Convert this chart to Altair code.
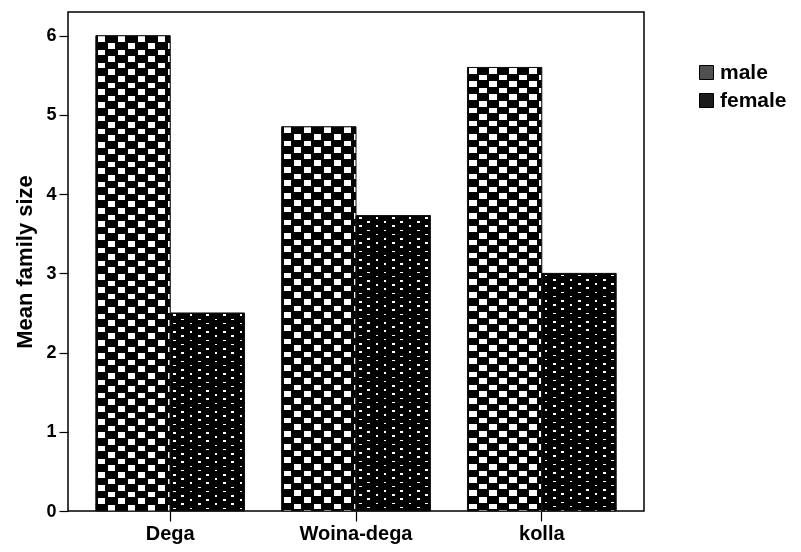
import altair as alt
import pandas as pd

# ---- data ----
categories = ["Dega", "Woina-dega", "kolla"]
sexes = ["male", "female"]
male_means = [6.0, 4.85, 5.6]
female_means = [2.5, 3.73, 3.0]
y_ticks = [0, 1, 2, 3, 4, 5, 6]

rows = []
for c, m, f in zip(categories, male_means, female_means):
    rows.append({"zone": c, "sex": "male", "mean": m})
    rows.append({"zone": c, "sex": "female", "mean": f})
df = pd.DataFrame(rows)

# ---- layout / style ----
W, H = 576, 499
YMAX = 6.3
PAD_IN, PAD_OUT = 0.2, 0.15
FONT = "Liberation Sans"

step = W / (len(categories) - PAD_IN + 2 * PAD_OUT)
bar_w = step * (1 - PAD_IN) / 2
px_per_unit = H / YMAX

# pattern geometry (pixels)
PAT = {
    "male": dict(col_period=20.0, col_white=7.5, col_shift=10.0, col_start=2.0,
                 row_period=6.6, row_white=5.6, row_start=0.6),
    "female": dict(col_period=16.6, col_white=2.6, col_shift=8.3, col_start=3.0,
                   row_period=4.2, row_white=1.5, row_start=1.5),
}


def stripes(intervals, length, vertical):
    stops = [{"offset": 0.0, "color": "black"}]

    def add(o, c):
        stops.append({"offset": min(max(o / length, 0.0), 1.0), "color": c})

    for a, b in intervals:
        a = max(a, 0.0)
        b = min(b, length)
        if b <= a:
            continue
        add(a, "black")
        add(a, "white")
        add(b, "white")
        add(b, "black")
    stops.append({"offset": 1.0, "color": "black"})
    return {"gradient": "linear", "stops": stops,
            "x1": 0, "y1": 0,
            "x2": 0 if vertical else 1, "y2": 1 if vertical else 0}


def col_intervals(p, shift):
    out = []
    k = -1
    while True:
        a = p["col_start"] + shift + k * p["col_period"]
        if a > bar_w:
            break
        out.append((a, a + p["col_white"]))
        k += 1
    return out


def row_intervals(p, length, which):
    out = []
    i = 0
    while True:
        a = p["row_start"] + i * p["row_period"]
        if a > length:
            break
        if which == "all" or (which == "even" and i % 2 == 0):
            out.append((a, a + p["row_white"]))
        i += 1
    return out


x_enc = alt.X(
    "zone:N",
    scale=alt.Scale(domain=categories, paddingInner=PAD_IN, paddingOuter=PAD_OUT),
    axis=alt.Axis(title=None, labelAngle=0, tickSize=10, labelPadding=2,
                  labelFontSize=20, domain=False, grid=False),
)
xo_enc = alt.XOffset("sex:N", scale=alt.Scale(domain=sexes, paddingInner=0, paddingOuter=0))
y_enc = alt.Y(
    "mean:Q",
    scale=alt.Scale(domain=[0, YMAX], nice=False, zero=True),
    axis=alt.Axis(title="Mean family size", values=y_ticks, tickSize=9,
                  labelPadding=3, labelFontSize=18, titleFontSize=22,
                  titlePadding=9, domain=False, grid=False, format="d"),
)

base = alt.Chart(df).encode(x=x_enc, xOffset=xo_enc, y=y_enc)

layers = [
    base.mark_bar(strokeWidth=0, opacity=1).encode(
        color=alt.Color(
            "sex:N",
            scale=alt.Scale(domain=sexes, range=["#505050", "#1c1c1c"]),
            legend=alt.Legend(title=None, orient="none", legendX=628, legendY=50,
                              symbolType="square", symbolSize=196,
                              symbolStrokeColor="black", symbolStrokeWidth=1,
                              labelFontSize=21, labelOffset=3, rowPadding=6),
        )
    )
]

vals = {"male": male_means, "female": female_means}
for s in sexes:
    p = PAT[s]
    c0 = col_intervals(p, 0.0)
    c1 = col_intervals(p, p["col_shift"])
    d_grad = stripes(sorted(c0 + c1), bar_w, vertical=False)
    c1_grad = stripes(c1, bar_w, vertical=False)
    layers.append(
        base.mark_bar(fill=d_grad, strokeWidth=0, opacity=1)
        .transform_filter(f"datum.sex == '{s}'")
    )
    for c, v in zip(categories, vals[s]):
        h = v * px_per_unit
        layers.append(
            base.mark_bar(fill=stripes(row_intervals(p, h, "even"), h, True),
                          strokeWidth=0, opacity=1, blend="multiply")
            .transform_filter(f"datum.sex == '{s}' && datum.zone == '{c}'")
        )
    layers.append(
        base.mark_bar(fill=c1_grad, strokeWidth=0, opacity=1, blend="difference")
        .transform_filter(f"datum.sex == '{s}'")
    )
    for c, v in zip(categories, vals[s]):
        h = v * px_per_unit
        layers.append(
            base.mark_bar(fill=stripes(row_intervals(p, h, "all"), h, True),
                          strokeWidth=0, opacity=1, blend="multiply")
            .transform_filter(f"datum.sex == '{s}' && datum.zone == '{c}'")
        )

layers.append(base.mark_bar(fillOpacity=0, stroke="#111111", strokeWidth=1))

chart = (
    alt.layer(*layers)
    .properties(
        width=W,
        height=H,
        padding={"left": 60, "top": 4, "right": 149, "bottom": 33},
        autosize=alt.AutoSizeParams(type="none"),
        background="white",
    )
    .configure_view(stroke="black", strokeWidth=1.5)
    .configure_axis(labelFont=FONT, titleFont=FONT, labelFontWeight="bold",
                    titleFontWeight="bold", labelColor="black", titleColor="black",
                    tickColor="black", tickWidth=1.2)
    .configure_legend(labelFont=FONT, labelFontWeight="bold", labelColor="black")
)

chart.save("out.html", embed_options={"renderer": "svg", "actions": False})
